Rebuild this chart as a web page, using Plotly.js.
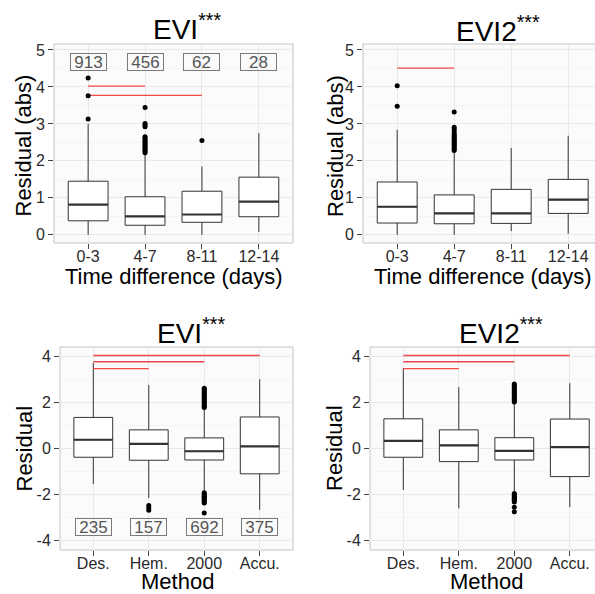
<!DOCTYPE html>
<html>
<head>
<meta charset="utf-8">
<script src="https://cdn.plot.ly/plotly-3.0.1.min.js"></script>
<style>
  html, body { margin: 0; padding: 0; background: #ffffff; }
  #chart { width: 595px; height: 594px; }
</style>
</head>
<body>
<div id="chart"></div>
<script>
// ---- categories -------------------------------------------------------
const timeCats = ['0-3', '4-7', '8-11', '12-14'];
const methodCats = ['Des.', 'Hem.', '2000', 'Accu.'];

// sample sizes printed in the panels
const timeCounts = [913, 456, 62, 28];
const methodCounts = [235, 157, 692, 375];

// ---- EVI, residual (abs) by time difference ----------------------------
const eviTimeLow = [0.00, 0.00, 0.00, 0.08];
const eviTimeQ1 = [0.38, 0.26, 0.34, 0.49];
const eviTimeMed = [0.82, 0.50, 0.55, 0.90];
const eviTimeQ3 = [1.45, 1.03, 1.18, 1.56];
const eviTimeHigh = [3.00, 2.20, 1.85, 2.75];
const eviTimeOut = [
  [3.13, 3.76, 4.24],
  [2.22, 2.26, 2.30, 2.34, 2.38, 2.42, 2.46, 2.50, 2.54, 2.58, 2.62, 2.65, 2.92, 2.97, 3.01, 3.44],
  [2.55],
  []
];
const eviTimeSigTo = ['4-7', '8-11'];
const eviTimeSigY = [4.02, 3.77];

// ---- EVI2, residual (abs) by time difference ---------------------------
const evi2TimeLow = [0.00, 0.00, 0.10, 0.03];
const evi2TimeQ1 = [0.32, 0.30, 0.31, 0.58];
const evi2TimeMed = [0.76, 0.58, 0.58, 0.95];
const evi2TimeQ3 = [1.43, 1.08, 1.23, 1.50];
const evi2TimeHigh = [2.84, 2.25, 2.35, 2.68];
const evi2TimeOut = [
  [3.48, 4.03],
  [2.28, 2.32, 2.36, 2.40, 2.44, 2.48, 2.52, 2.56, 2.60, 2.64, 2.68, 2.72, 2.78, 2.85, 2.91, 3.32],
  [],
  []
];
const evi2TimeSigTo = ['4-7'];
const evi2TimeSigY = [4.51];

// ---- EVI, residual by method -------------------------------------------
const eviMethLow = [-1.55, -2.15, -1.85, -2.67];
const eviMethQ1 = [-0.38, -0.51, -0.50, -1.10];
const eviMethMed = [0.38, 0.20, -0.12, 0.09];
const eviMethQ3 = [1.35, 0.81, 0.46, 1.37];
const eviMethHigh = [3.72, 2.76, 1.72, 3.01];
const eviMethOut = [
  [],
  [-2.48, -2.58, -2.68],
  [1.78, 1.84, 1.90, 1.96, 2.02, 2.08, 2.14, 2.20, 2.26, 2.32, 2.38, 2.44, 2.50, 2.56, 2.62,
   -1.92, -1.97, -2.02, -2.07, -2.12, -2.17, -2.22, -2.27, -2.32, -2.37, -2.80],
  []
];
const eviMethSigTo = ['Accu.', '2000', 'Hem.'];
const eviMethSigY = [4.04, 3.77, 3.47];

// ---- EVI2, residual by method ------------------------------------------
const evi2MethLow = [-1.80, -2.60, -1.92, -2.55];
const evi2MethQ1 = [-0.38, -0.57, -0.50, -1.22];
const evi2MethMed = [0.33, 0.14, -0.10, 0.06];
const evi2MethQ3 = [1.29, 0.81, 0.47, 1.28];
const evi2MethHigh = [3.49, 2.67, 1.98, 2.84];
const evi2MethOut = [
  [],
  [],
  [2.02, 2.08, 2.14, 2.20, 2.26, 2.32, 2.38, 2.44, 2.50, 2.56, 2.62, 2.68, 2.74, 2.80,
   -1.95, -2.00, -2.05, -2.10, -2.15, -2.20, -2.25, -2.32, -2.55, -2.75],
  []
];
const evi2MethSigTo = ['Accu.', '2000', 'Hem.'];
const evi2MethSigY = [4.04, 3.77, 3.47];

// ---- tick labels --------------------------------------------------------
const absTicks = [0, 1, 2, 3, 4, 5];
const absTickText = ['0', '1', '2', '3', '4', '5'];
const resTicks = [-4, -2, 0, 2, 4];
const resTickText = ['-4', '-2', '0', '2', '4'];

// ---- page geometry helpers (pixel -> paper fraction) --------------------
const W = 595, H = 594;
const px = v => v / W;
const py = v => 1 - v / H;

const FONT = 'Liberation Sans, Arial, Helvetica, sans-serif';
const INK = '#333333';
const SIG = '#f04848';
const BOX_HALF = 0.35;

const panels = [
  { xa: 'x', ya: 'y', cats: timeCats, low: eviTimeLow, q1: eviTimeQ1, med: eviTimeMed, q3: eviTimeQ3, high: eviTimeHigh,
    out: eviTimeOut, sigTo: eviTimeSigTo, sigY: eviTimeSigY, counts: timeCounts, countY: 4.66 },
  { xa: 'x2', ya: 'y2', cats: timeCats, low: evi2TimeLow, q1: evi2TimeQ1, med: evi2TimeMed, q3: evi2TimeQ3, high: evi2TimeHigh,
    out: evi2TimeOut, sigTo: evi2TimeSigTo, sigY: evi2TimeSigY, counts: null },
  { xa: 'x3', ya: 'y3', cats: methodCats, low: eviMethLow, q1: eviMethQ1, med: eviMethMed, q3: eviMethQ3, high: eviMethHigh,
    out: eviMethOut, sigTo: eviMethSigTo, sigY: eviMethSigY, counts: methodCounts, countY: -3.43 },
  { xa: 'x4', ya: 'y4', cats: methodCats, low: evi2MethLow, q1: evi2MethQ1, med: evi2MethMed, q3: evi2MethQ3, high: evi2MethHigh,
    out: evi2MethOut, sigTo: evi2MethSigTo, sigY: evi2MethSigY, counts: null }
];

const traces = [];
const shapes = [];
const annotations = [];

panels.forEach(p => {
  // significance bars drawn from the first group, one trace per bar
  p.sigTo.forEach((c, k) => traces.push({
    type: 'scatter', mode: 'lines', xaxis: p.xa, yaxis: p.ya,
    x: [p.cats[0], c], y: [p.sigY[k], p.sigY[k]],
    line: { color: SIG, width: 1.3 }, hoverinfo: 'skip'
  }));
  // boxes from precomputed statistics
  traces.push({
    type: 'box', xaxis: p.xa, yaxis: p.ya,
    x: p.cats, q1: p.q1, median: p.med, q3: p.q3,
    lowerfence: p.low, upperfence: p.high,
    boxpoints: false, width: 2 * BOX_HALF, whiskerwidth: 0,
    fillcolor: '#ffffff', line: { color: INK, width: 1 },
    hoverinfo: 'skip'
  });
  // outliers
  const ox = [], oy = [];
  p.out.forEach((vals, i) => vals.forEach(v => { ox.push(p.cats[i]); oy.push(v); }));
  traces.push({
    type: 'scatter', mode: 'markers', xaxis: p.xa, yaxis: p.ya,
    x: ox, y: oy, marker: { color: '#000000', size: 5 }, hoverinfo: 'skip'
  });
  // thicker median bars
  p.med.forEach((m, i) => shapes.push({
    type: 'line', xref: p.xa, yref: p.ya,
    x0: i - BOX_HALF, x1: i + BOX_HALF, y0: m, y1: m,
    line: { color: INK, width: 2.2 }
  }));
  // group sizes (positioned by category index)
  if (p.counts) p.counts.forEach((n, i) => annotations.push({
    xref: p.xa, yref: p.ya, x: i, y: p.countY,
    text: String(n), showarrow: false,
    font: { family: FONT, size: 17, color: '#555555' },
    bordercolor: '#7a7a7a', borderwidth: 1, borderpad: 1,
    width: 33, height: 14, bgcolor: 'rgba(255,255,255,0)'
  }));
});

// panel frames (right-hand panels run past the page edge)
const frames = [[54, 44, 293, 243], [363, 44, 602, 243], [60, 347, 293, 550], [370, 347, 602, 550]];
frames.forEach(f => shapes.push({
  type: 'rect', xref: 'paper', yref: 'paper',
  x0: px(f[0]), x1: px(f[2]), y0: py(f[3]), y1: py(f[1]),
  line: { color: '#c4c4c4', width: 1 }, layer: 'below'
}));

// titles and axis titles
const txt = (text, x, y, size, extra) => Object.assign({
  xref: 'paper', yref: 'paper', x: px(x), y: py(y), text, showarrow: false,
  xanchor: 'center', yanchor: 'middle', font: { family: FONT, size, color: '#000000' }
}, extra || {});

annotations.push(
  txt('EVI<sup>***</sup>', 187, 27, 28),
  txt('EVI2<sup>***</sup>', 497.5, 29, 28),
  txt('EVI<sup>***</sup>', 191, 331, 28),
  txt('EVI2<sup>***</sup>', 500.5, 331, 28),
  txt('Residual (abs)', 22.5, 146, 22, { textangle: -90 }),
  txt('Residual (abs)', 335, 146, 22, { textangle: -90 }),
  txt('Residual', 24, 448.5, 22, { textangle: -90 }),
  txt('Residual', 334.5, 448.5, 22, { textangle: -90 }),
  txt('Time difference (days)', 174, 277, 22),
  txt('Time difference (days)', 483, 277, 22),
  txt('Method', 177, 581, 22),
  txt('Method', 486, 581, 22)
);

const tickFont = { family: FONT, size: 16, color: '#2a2a2a' };
const xAxis = (d0, d1, cats, hi) => ({
  domain: [px(d0), Math.min(1, px(d1))], type: 'category',
  categoryorder: 'array', categoryarray: cats, range: [-0.6, hi],
  showgrid: true, gridcolor: '#e9e9e9', gridwidth: 1, zeroline: false, showline: false,
  ticks: 'outside', ticklen: 5, tickwidth: 1, tickcolor: '#444444', ticklabelstandoff: -6,
  tickfont: tickFont, fixedrange: true
});
const yAxis = (top, bottom, range, vals, text, minorStep) => ({
  domain: [py(bottom), py(top)], range,
  tickmode: 'array', tickvals: vals, ticktext: text,
  showgrid: true, gridcolor: '#e9e9e9', gridwidth: 1, zeroline: false, showline: false,
  ticks: 'outside', ticklen: 5, tickwidth: 1, tickcolor: '#444444',
  tickfont: tickFont, fixedrange: true,
  minor: { dtick: minorStep, showgrid: true, gridcolor: '#f2f2f2', gridwidth: 0.6, ticks: '' }
});

const layout = {
  width: W, height: H,
  margin: { l: 0, r: 0, t: 0, b: 0 },
  paper_bgcolor: '#ffffff', plot_bgcolor: '#fbfbfb',
  showlegend: false,
  xaxis: Object.assign(xAxis(54, 293, timeCats, 3.6), { anchor: 'y' }),
  yaxis: Object.assign(yAxis(44, 243, [-0.22, 5.16], absTicks, absTickText, 0.5), { anchor: 'x' }),
  xaxis2: Object.assign(xAxis(363, 595, timeCats, -0.6 + 232 / 57), { anchor: 'y2' }),
  yaxis2: Object.assign(yAxis(44, 243, [-0.22, 5.16], absTicks, absTickText, 0.5), { anchor: 'x2' }),
  xaxis3: Object.assign(xAxis(60, 293, methodCats, 3.6), { anchor: 'y3' }),
  yaxis3: Object.assign(yAxis(347, 550, [-4.41, 4.41], resTicks, resTickText, 1), { anchor: 'x3' }),
  xaxis4: Object.assign(xAxis(370, 595, methodCats, -0.6 + 225 / 55.5), { anchor: 'y4' }),
  yaxis4: Object.assign(yAxis(347, 550, [-4.41, 4.41], resTicks, resTickText, 1), { anchor: 'x4' }),
  shapes, annotations
};

Plotly.newPlot('chart', traces, layout, { staticPlot: true, displayModeBar: false });
</script>
</body>
</html>
